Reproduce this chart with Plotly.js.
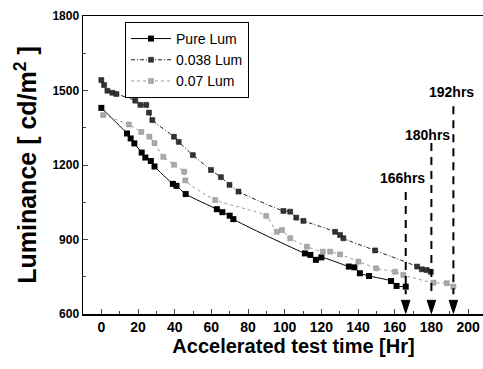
<!DOCTYPE html>
<html>
<head>
<meta charset="utf-8">
<script src="https://cdn.plot.ly/plotly-3.0.1.min.js"></script>
<style>html,body{margin:0;padding:0;background:#fff;overflow:hidden;width:483px;height:369px;}#chart{width:504px;height:369px;}</style>
</head>
<body>
<div id="chart"></div>
<script>
// Pure Lum
var pureX = [0,14,16,18,22,24,27,29,39,41,46,63,66,70,72,111,114,117,120,135,138,141,146,158,161,166];
var pureY = [1430,1327,1307,1287,1250,1230,1216,1194,1124,1116,1083,1022,1010,996,982,844,838,818,828,791,788,764,753,733,713,710];
// 0.038 Lum
var lum038X = [0,1.5,3.3,6,8.2,18.5,21.3,24.5,26,27.8,39.6,42.2,49.9,59.8,65.2,69.9,74.8,99.3,103,106.3,110.2,127.5,130.2,132,149.3,172.2,174.8,177.5,179.7];
var lum038Y = [1542,1522,1499,1491,1486,1459,1442,1442,1411,1381,1314,1293,1240,1180,1151,1120,1093,1015,1012,988,975,931,918,905,856,791,780,777,770];
// 0.07 Lum
var lum07X = [1,15,21.8,26.2,29,33.8,39.6,45.2,45.8,62.1,89.9,95.7,98.5,103,112.1,120.8,124.8,130.2,140.2,149.9,160.2,164.7,181.1,188.4,192];
var lum07Y = [1401,1363,1333,1314,1288,1233,1201,1173,1138,1059,995,931,938,905,871,851,851,840,811,784,770,757,726,724,710];
// Lifetime markers
var lifeX = [166,180,192];
var lifeLabels = ['166hrs','180hrs','192hrs'];
var lifeTop = [1091,1289,1437];
var lifeLabelX = [164.3,177.9,190.9];
var lifeLabelY = [1148,1321,1495];
var xTicks = [0,20,40,60,80,100,120,140,160,180,200];
var yTicks = [600,900,1200,1500,1800];

var traces = [
  {x: pureX, y: pureY, name: 'Pure Lum', type: 'scatter', mode: 'lines+markers',
   line: {color: '#000', width: 1, shape: 'spline', smoothing: 0.6},
   marker: {symbol: 'square', size: 6, color: '#000'}},
  {x: lum038X, y: lum038Y, name: '0.038 Lum', type: 'scatter', mode: 'lines+markers',
   line: {color: '#222', width: 1, dash: '4px,2px,1px,2px', shape: 'spline', smoothing: 0.6},
   marker: {symbol: 'square', size: 5, color: '#333', line: {color: '#111', width: 0.5}}},
  {x: lum07X, y: lum07Y, name: '0.07 Lum', type: 'scatter', mode: 'lines+markers',
   line: {color: '#999', width: 1, dash: 'dot', shape: 'spline', smoothing: 0.6},
   marker: {symbol: 'square', size: 5, color: '#aaa', line: {color: '#888', width: 0.5}}}
];

var headHalf = 2.3, headTip = 603, headBase = 655;
var shapes = [];
lifeX.forEach(function(v, i){
  shapes.push({type: 'line', xref: 'x', yref: 'y', x0: v, x1: v, y0: lifeTop[i], y1: 680,
          line: {color: '#000', width: 2, dash: '8px,6px'}});
  shapes.push({type: 'path', xref: 'x', yref: 'y',
          path: 'M' + (v - headHalf) + ',' + headBase + ' L' + (v + headHalf) + ',' + headBase + ' L' + v + ',' + headTip + ' Z',
          fillcolor: '#000', line: {color: '#000', width: 1}});
});
var annotations = lifeX.map(function(v, i){
  return {x: lifeLabelX[i], y: lifeLabelY[i], xref: 'x', yref: 'y', text: lifeLabels[i],
    showarrow: false, font: {family: 'Liberation Sans, Arial', size: 14, color: '#000', weight: 'bold'}};
});

var layout = {
  width: 504, height: 369,
  margin: {l: 83, r: 0, t: 16, b: 55},
  paper_bgcolor: '#fff', plot_bgcolor: '#fff',
  font: {family: 'Liberation Sans, Arial', color: '#000'},
  showlegend: true,
  legend: {x: 0.0998, y: 0.98, xanchor: 'left', yanchor: 'top', bgcolor: '#fff',
    bordercolor: '#000', borderwidth: 1, font: {size: 14, color: '#000'}, itemwidth: 40, tracegroupgap: 0},
  xaxis: {range: [-10, 219.6], tickvals: xTicks, ticks: 'inside', ticklen: 5, tickwidth: 1,
    minor: {dtick: 10, ticks: 'inside', ticklen: 3, tickwidth: 1},
    showline: true, linecolor: '#000', linewidth: 1.5, mirror: true, showgrid: false, zeroline: false,
    tickfont: {size: 14, weight: 'bold'},
    title: {text: 'Accelerated test time [Hr]', font: {size: 20, weight: 'bold'}, standoff: 3}},
  yaxis: {range: [600, 1800], tickvals: yTicks, ticks: 'inside', ticklen: 5, tickwidth: 1,
    minor: {dtick: 150, ticks: 'inside', ticklen: 3, tickwidth: 1},
    showline: true, linecolor: '#000', linewidth: 1.5, mirror: false, showgrid: false, zeroline: false,
    tickfont: {size: 12, weight: 'bold'},
    title: {text: 'Luminance [ cd/m<sup>2</sup> ]', font: {size: 25, weight: 'bold'}, standoff: 8}},
  shapes: shapes,
  annotations: annotations
};

Plotly.newPlot('chart', traces, layout, {staticPlot: true, displayModeBar: false});
</script>
</body>
</html>
